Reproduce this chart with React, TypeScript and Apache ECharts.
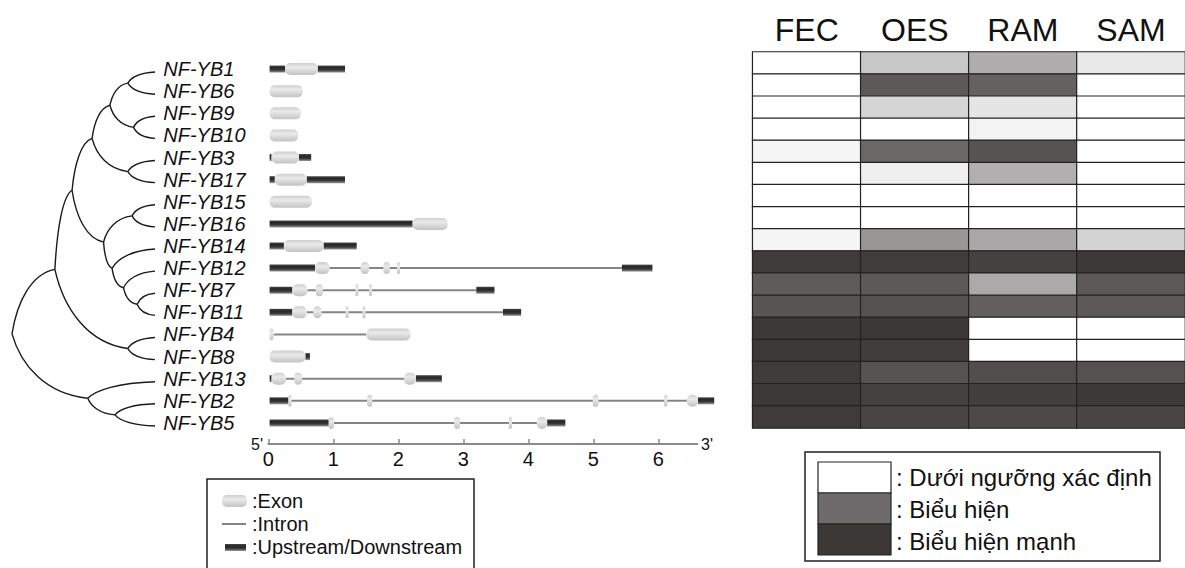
import React, { useEffect, useRef } from 'react';
import * as echarts from 'echarts';

const genes = ['NF-YB1', 'NF-YB6', 'NF-YB9', 'NF-YB10', 'NF-YB3', 'NF-YB17', 'NF-YB15', 'NF-YB16', 'NF-YB14', 'NF-YB12', 'NF-YB7', 'NF-YB11', 'NF-YB4', 'NF-YB8', 'NF-YB13', 'NF-YB2', 'NF-YB5'];

// [gene index, start kb, end kb]
const upDownstream: number[][] = [
  [0, 0.02, 0.26], [0, 0.76, 1.18],
  [4, 0.02, 0.05], [4, 0.47, 0.66],
  [5, 0.02, 0.1], [5, 0.59, 1.18],
  [7, 0.02, 2.22],
  [8, 0.02, 0.24], [8, 0.85, 1.36],
  [9, 0.02, 0.72], [9, 5.44, 5.91],
  [10, 0.02, 0.37], [10, 3.2, 3.48],
  [11, 0.02, 0.37], [11, 3.61, 3.89],
  [13, 0.57, 0.64],
  [14, 0.02, 0.05], [14, 2.27, 2.67],
  [15, 0.02, 0.31], [15, 6.61, 6.86],
  [16, 0.02, 0.93], [16, 4.29, 4.57],
];

const exons: number[][] = [
  [0, 0.26, 0.76],
  [1, 0.02, 0.53],
  [2, 0.02, 0.5],
  [3, 0.02, 0.46],
  [4, 0.05, 0.47],
  [5, 0.1, 0.59],
  [6, 0.02, 0.67],
  [7, 2.22, 2.76],
  [8, 0.24, 0.85],
  [9, 0.72, 0.94], [9, 1.42, 1.55], [9, 1.77, 1.87], [9, 1.98, 2.01],
  [10, 0.37, 0.6], [10, 0.73, 0.84], [10, 1.34, 1.37], [10, 1.55, 1.58],
  [11, 0.37, 0.59], [11, 0.69, 0.82], [11, 1.19, 1.22], [11, 1.45, 1.48],
  [12, 0.02, 0.08], [12, 1.51, 2.19],
  [13, 0.02, 0.57],
  [14, 0.05, 0.27], [14, 0.4, 0.52], [14, 2.09, 2.27],
  [15, 0.31, 0.35], [15, 1.52, 1.6], [15, 4.99, 5.08], [15, 6.09, 6.14], [15, 6.44, 6.61],
  [16, 0.93, 1.01], [16, 2.86, 2.95], [16, 3.7, 3.75], [16, 4.13, 4.29],
];

const introns: number[][] = [
  [9, 0.94, 5.44],
  [10, 0.6, 3.2],
  [11, 0.59, 3.61],
  [12, 0.08, 1.51],
  [14, 0.27, 2.09],
  [15, 0.35, 6.44],
  [16, 1.01, 4.29],
];

const xTicks = [0, 1, 2, 3, 4, 5, 6];

const tissues = ['FEC', 'OES', 'RAM', 'SAM'];
// relative expression (0 = below threshold, 100 = strongest), one row per gene
const expression: number[][] = [
  [0, 28, 41, 11],
  [0, 83, 79, 0],
  [0, 21, 13, 0],
  [0, 0, 6, 0],
  [5, 76, 86, 0],
  [0, 8, 40, 0],
  [0, 0, 0, 0],
  [0, 0, 0, 0],
  [5, 52, 44, 22],
  [98, 97, 95, 99],
  [82, 83, 43, 83],
  [85, 87, 80, 83],
  [99, 100, 0, 0],
  [99, 97, 0, 0],
  [98, 86, 89, 87],
  [99, 95, 96, 99],
  [98, 93, 91, 93],
];

// internal tree nodes: [id, child A, child B, depth (root 0, tips 1)]
const treeNodes: [string, string, string, number][] = [
  ['a', 'NF-YB1', 'NF-YB6', 0.81],
  ['b', 'NF-YB9', 'NF-YB10', 0.85],
  ['c', 'a', 'b', 0.685],
  ['d', 'NF-YB3', 'NF-YB17', 0.81],
  ['e', 'c', 'd', 0.56],
  ['f', 'NF-YB15', 'NF-YB16', 0.84],
  ['g', 'NF-YB7', 'NF-YB11', 0.875],
  ['h', 'NF-YB12', 'g', 0.78],
  ['i', 'NF-YB14', 'h', 0.7],
  ['j', 'f', 'i', 0.64],
  ['k', 'e', 'j', 0.42],
  ['l', 'NF-YB4', 'NF-YB8', 0.81],
  ['m', 'k', 'l', 0.3],
  ['n', 'NF-YB2', 'NF-YB5', 0.72],
  ['o', 'NF-YB13', 'n', 0.53],
  ['root', 'm', 'o', 0],
];

const structureLegend = [':Exon', ':Intron', ':Upstream/Downstream'];
const levelLabels = [': Dưới ngưỡng xác định', ': Biểu hiện', ': Biểu hiện mạnh'];
const levelColors = ['#ffffff', '#6f6b6c', '#3c3836'];

const FONT = 'Liberation Sans, Arial, Helvetica, sans-serif';

function buildTreeEdges(): number[][] {
  const y: Record<string, number> = {};
  const x: Record<string, number> = {};
  genes.forEach((g, i) => { y[g] = i; x[g] = 1; });
  treeNodes.forEach(([id, a, b, d]) => { y[id] = (y[a] + y[b]) / 2; x[id] = d; });
  const edges: number[][] = [];
  treeNodes.forEach(([id, a, b]) => {
    [a, b].forEach((c) => edges.push([x[id], y[id], x[c], y[c]]));
  });
  return edges;
}

const exonFill = () => new echarts.graphic.LinearGradient(0, 0, 0, 1, [
  { offset: 0, color: '#cfcdcd' },
  { offset: 0.35, color: '#ebeaea' },
  { offset: 1, color: '#c4c2c2' },
]);
const utrFill = () => new echarts.graphic.LinearGradient(0, 0, 0, 1, [
  { offset: 0, color: '#4a4a4a' },
  { offset: 0.3, color: '#262626' },
  { offset: 0.65, color: '#3a3a3a' },
  { offset: 1, color: '#9a9a9a' },
]);

export default function App() {
  const ref = useRef<HTMLDivElement>(null);
  useEffect(() => {
    if (!ref.current) return;
    const chart = echarts.init(ref.current, undefined, { renderer: 'svg' });
    const treeEdges = buildTreeEdges();
    const heatData = expression.flatMap((row, r) => row.map((v, c) => [c, r, v]));

    const option: any = {
      animation: false,
      backgroundColor: '#ffffff',
      textStyle: { fontFamily: FONT },
      grid: [
        { left: 12, top: 61, width: 143, height: 376 },
        { left: 268.3, top: 58, width: 429, height: 376 },
        { left: 752.7, top: 52, width: 438.8, height: 376 },
      ],
      xAxis: [
        { gridIndex: 0, type: 'value', min: 0, max: 1, show: false },
        {
          gridIndex: 1, type: 'value', min: 0, max: 6.6, position: 'bottom', offset: 10,
          axisLine: { show: true, lineStyle: { color: '#8a8a8a', width: 2 } },
          axisTick: { show: true, inside: true, length: 5, customValues: xTicks, lineStyle: { color: '#8a8a8a', width: 1.5 } },
          axisLabel: { customValues: xTicks, fontSize: 20, color: '#111', margin: 5, fontFamily: FONT },
          splitLine: { show: false },
        },
        {
          gridIndex: 2, type: 'category', data: tissues, position: 'top',
          axisLine: { show: false }, axisTick: { show: false },
          axisLabel: { fontSize: 32, color: '#111', margin: 6, fontFamily: FONT },
        },
      ],
      yAxis: [
        { gridIndex: 0, type: 'value', min: -0.5, max: 16.5, inverse: true, show: false },
        {
          gridIndex: 1, type: 'category', data: genes, inverse: true,
          axisLine: { show: false }, axisTick: { show: false }, splitLine: { show: false },
          axisLabel: { interval: 0, align: 'left', margin: 105, fontSize: 20, lineHeight: 20, fontStyle: 'italic', color: '#111', fontFamily: FONT },
        },
        { gridIndex: 2, type: 'category', data: genes, inverse: true, show: false },
      ],
      visualMap: {
        show: false, type: 'continuous', min: 0, max: 100, seriesIndex: 4,
        inRange: { color: ['#ffffff', '#3b3736'] },
      },
      series: [
        {
          type: 'custom', xAxisIndex: 0, yAxisIndex: 0, data: treeEdges,
          encode: { x: [0, 2], y: [1, 3] }, silent: true,
          renderItem: (_p: any, api: any) => {
            const p = api.coord([api.value(0), api.value(1)]);
            const c = api.coord([api.value(2), api.value(3)]);
            const dx = c[0] - p[0];
            const dy = c[1] - p[1];
            return {
              type: 'bezierCurve',
              shape: {
                x1: p[0], y1: p[1],
                cpx1: p[0] + 0.12 * dx, cpy1: p[1] + 0.5 * dy,
                cpx2: p[0] + 0.45 * dx, cpy2: p[1] + 0.93 * dy,
                x2: c[0], y2: c[1],
              },
              style: { stroke: '#1a1a1a', lineWidth: 1.4, fill: null },
            };
          },
        },
        {
          type: 'custom', xAxisIndex: 1, yAxisIndex: 1, data: introns,
          encode: { x: [1, 2], y: 0 }, silent: true,
          renderItem: (_p: any, api: any) => {
            const s = api.coord([api.value(1), api.value(0)]);
            const e = api.coord([api.value(2), api.value(0)]);
            return {
              type: 'line',
              shape: { x1: s[0], y1: s[1], x2: e[0], y2: e[1] },
              style: { stroke: '#858585', lineWidth: 2 },
            };
          },
        },
        {
          type: 'custom', xAxisIndex: 1, yAxisIndex: 1, data: upDownstream,
          encode: { x: [1, 2], y: 0 }, silent: true,
          renderItem: (_p: any, api: any) => {
            const s = api.coord([api.value(1), api.value(0)]);
            const e = api.coord([api.value(2), api.value(0)]);
            const w = Math.max(e[0] - s[0], 2);
            return {
              type: 'rect',
              shape: { x: s[0], y: s[1] - 3.5, width: w, height: 7 },
              style: { fill: utrFill() },
            };
          },
        },
        {
          type: 'custom', xAxisIndex: 1, yAxisIndex: 1, data: exons,
          encode: { x: [1, 2], y: 0 }, silent: true,
          renderItem: (_p: any, api: any) => {
            const s = api.coord([api.value(1), api.value(0)]);
            const e = api.coord([api.value(2), api.value(0)]);
            const w = Math.max(e[0] - s[0], 3);
            return {
              type: 'rect',
              shape: { x: s[0], y: s[1] - 6, width: w, height: 12, r: Math.min(5, w / 2) },
              style: { fill: exonFill() },
            };
          },
        },
        {
          type: 'heatmap', xAxisIndex: 2, yAxisIndex: 2, data: heatData,
          itemStyle: { borderColor: '#222', borderWidth: 1.2 },
          emphasis: { disabled: true }, silent: true,
        },
      ],
      graphic: [
        { type: 'text', left: 251, top: 436, style: { text: "5'", fontSize: 16, fill: '#111', fontFamily: FONT } },
        { type: 'text', left: 701, top: 436, style: { text: "3'", fontSize: 16, fill: '#111', fontFamily: FONT } },
        // gene structure legend
        { type: 'rect', shape: { x: 207, y: 479, width: 267, height: 110 }, style: { fill: '#fff', stroke: '#222', lineWidth: 1.5 } },
        { type: 'rect', shape: { x: 222, y: 495, width: 25, height: 12, r: 5 }, style: { fill: exonFill() } },
        { type: 'line', shape: { x1: 222, y1: 524, x2: 246, y2: 524 }, style: { stroke: '#858585', lineWidth: 2 } },
        { type: 'rect', shape: { x: 225, y: 544, width: 21, height: 7 }, style: { fill: utrFill() } },
        ...structureLegend.map((t, i) => ({
          type: 'text', x: 252, y: 501 + i * 23,
          style: { text: t, fontSize: 20, fill: '#111', fontFamily: FONT, textVerticalAlign: 'middle', verticalAlign: 'middle' },
        })),
        // expression legend
        { type: 'rect', shape: { x: 805, y: 452, width: 355, height: 109 }, style: { fill: '#fff', stroke: '#222', lineWidth: 1.5 } },
        ...levelColors.map((c, i) => ({
          type: 'rect', shape: { x: 818, y: 462 + i * 31, width: 73, height: 31 },
          style: { fill: c, stroke: '#222', lineWidth: 1.2 },
        })),
        ...levelLabels.map((t, i) => ({
          type: 'text', x: 896, y: 477 + i * 32,
          style: { text: t, fontSize: 24, fill: '#111', fontFamily: FONT, textVerticalAlign: 'middle', verticalAlign: 'middle' },
        })),
      ],
    };
    chart.setOption(option);
    return () => chart.dispose();
  }, []);
  return <div ref={ref} style={{ position: 'fixed', left: 0, top: 0, width: 1185, height: 568, background: '#fff' }} />;
}
